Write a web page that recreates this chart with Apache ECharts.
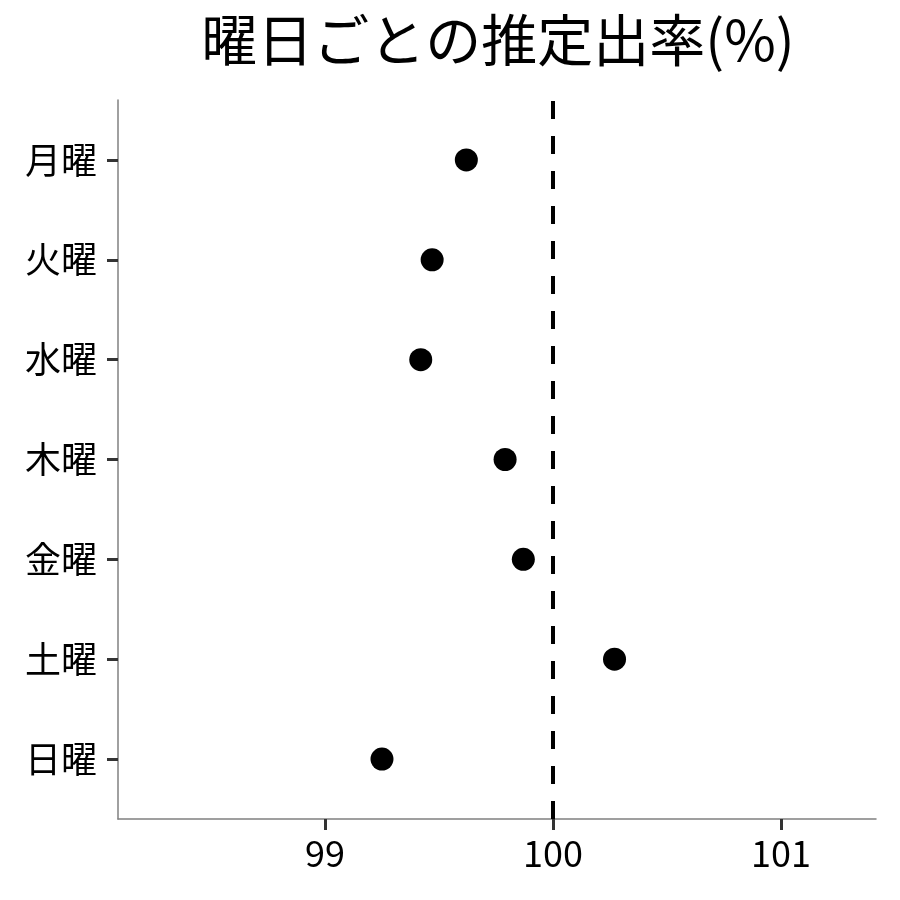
<!DOCTYPE html>
<html lang="ja">
<head>
    <meta charset="UTF-8">
    <title>曜日ごとの推定出率</title>
    <style>
        *{
            padding:0;
            margin:0;
        }
        html, body{
            width:900px;
            height:900px;
            background:#fff;
        }
        #main{
            width:900px;
            height:900px;
        }
    </style>
    <script src="https://cdn.jsdelivr.net/npm/echarts@6/dist/echarts.min.js"></script>
</head>
<body>
<div id="main"></div>
<script>
    // 上から順に
    var days = ['月曜', '火曜', '水曜', '木曜', '金曜', '土曜', '日曜'];
    var rates = [99.62, 99.47, 99.42, 99.79, 99.87, 100.27, 99.25];
    var xTicks = [99, 100, 101];
    var refValue = 100;

    var font = '"Noto Sans CJK JP", "Noto Sans", sans-serif';

    // 月曜が一番上: 月=7 ... 日=1
    var yPos = days.map(function (d, i) { return days.length - i; });
    var points = rates.map(function (v, i) { return [v, yPos[i]]; });

    var myChart = echarts.init(document.getElementById('main'));
    var option = {
        backgroundColor: '#fff',
        animation: false,
        title: {
            text: '曜日ごとの推定出率(%)',
            left: 493,
            top: 7,
            textAlign: 'center',
            textStyle: {
                color: '#000',
                fontSize: 56,
                fontWeight: 'normal',
                fontFamily: font
            }
        },
        grid: {
            left: 118,
            right: 24,
            top: 100,
            bottom: 81
        },
        xAxis: {
            type: 'value',
            min: 98.092,
            max: 101.417,
            axisLine: {
                show: true,
                onZero: false,
                lineStyle: { color: '#808080', width: 1.5 }
            },
            axisTick: {
                show: true,
                length: 11,
                customValues: xTicks,
                lineStyle: { color: '#333', width: 3 }
            },
            axisLabel: {
                customValues: xTicks,
                margin: 16,
                color: '#000',
                fontSize: 36,
                fontFamily: font
            },
            splitLine: { show: false }
        },
        yAxis: {
            type: 'value',
            min: 0.4,
            max: 7.6,
            axisLine: {
                show: true,
                onZero: false,
                lineStyle: { color: '#808080', width: 1.5 }
            },
            axisTick: {
                show: true,
                length: 11,
                customValues: yPos,
                lineStyle: { color: '#333', width: 3 }
            },
            axisLabel: {
                customValues: yPos,
                margin: 21,
                color: '#000',
                fontSize: 36,
                fontFamily: font,
                formatter: function (v) {
                    return days[days.length - Math.round(v)];
                }
            },
            splitLine: { show: false }
        },
        series: [{
            type: 'scatter',
            symbol: 'circle',
            symbolSize: 23,
            itemStyle: { color: '#000', opacity: 1 },
            data: points,
            markLine: {
                silent: true,
                symbol: 'none',
                label: { show: false },
                lineStyle: { color: '#000', type: [18, 17], width: 4, opacity: 1 },
                data: [{ xAxis: refValue }]
            }
        }]
    };
    myChart.setOption(option);
</script>
</body>
</html>
